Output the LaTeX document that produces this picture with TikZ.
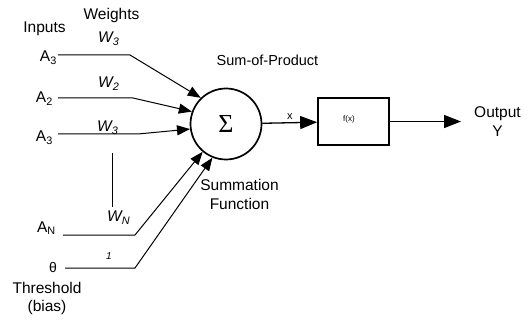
\documentclass[tikz,border=0pt]{standalone}
\usepackage{fontspec}
\setmainfont{Liberation Sans}
\newfontfamily\sigmafont{Liberation Serif}
\usetikzlibrary{arrows.meta,positioning}

\begin{document}
\begin{tikzpicture}[
    x=1pt, y=-1pt,
    txt/.style={inner sep=0pt, font=\fontsize{15.5}{18}\selectfont, align=center},
    wtxt/.style={inner sep=0pt, font=\fontsize{15.5}{18}\selectfont\itshape, anchor=base west},
    intxt/.style={inner sep=0pt, font=\fontsize{15.5}{18}\selectfont, anchor=base east},
    neuron/.style={circle, draw=black, line width=1.7pt, minimum size=71pt, inner sep=0pt},
    fbox/.style={rectangle, draw=black, line width=1.7pt, minimum width=71pt, minimum height=47pt},
    link/.style={line width=1pt},
    arrow/.style={-{Triangle[length=13pt,width=10pt]}, line width=1pt},
    bigarrow/.style={-{Triangle[length=17pt,width=13pt]}, line width=1.3pt}
]
\useasboundingbox (0,0) rectangle (529,320);
\node[neuron, font=\sigmafont\fontsize{26}{26}\selectfont] (sum) at (226,124) {Σ};
\node[fbox] (fx) at (353.5,121.5) {};
\node[inner sep=0pt, font=\fontsize{8}{9}\selectfont] (fxl) at (349,119) {f(x)};
\node[txt, anchor=base] (out) at (497.5,137) {Output\\[1pt]Y};

\node[txt, anchor=base] (inp) at (44.5,33) {Inputs};
\node[txt, anchor=base] (wgt) at (111.5,20) {Weights};
\node[txt, anchor=base, font=\fontsize{14.5}{17}\selectfont] (sop) at (267.5,66) {Sum-of-Product};
\node[txt, anchor=base] (sfn) at (239.5,209) {Summation\\Function};
\node[txt, anchor=base] (thr) at (47,311) {Threshold\\(bias)};

\node[intxt] (a1) at (57,62) {A\textsubscript{3}};
\node[intxt] (a2) at (53,103) {A\textsubscript{2}};
\node[intxt] (a3) at (53,142) {A\textsubscript{3}};
\node[intxt] (an) at (56,232) {A\textsubscript{N}};
\node[intxt, font=\fontsize{14}{16}\selectfont] (th) at (57,272) {θ};

\node[wtxt] (w1) at (98,43) {W\textsubscript{3}};
\node[wtxt] (w2) at (98,88) {W\textsubscript{2}};
\node[wtxt] (w3) at (97,132) {W\textsubscript{3}};
\node[wtxt] (wn) at (107,222) {W\textsubscript{N}};
\node[wtxt, font=\fontsize{10}{12}\selectfont\itshape] (w0) at (106,259) {1};

\coordinate (k1) at (130,55);
\coordinate (k2) at (133,98);
\coordinate (k3) at (138,134);
\coordinate (kn) at (135,235);
\coordinate (kt) at (135,268);
\coordinate (d1) at (112,153);
\coordinate (d2) at (112,207);

\draw[arrow] ([xshift=1pt]a1.east |- k1) -- (k1) -- (sum.134);
\draw[arrow] ([xshift=5pt]a2.east |- k2) -- (k2) -- (sum.160);
\draw[arrow] ([xshift=5pt]a3.east |- k3) -- (k3) -- (sum.188);
\draw[arrow] ([xshift=7pt]an.east |- kn) -- (kn) -- (sum.230);
\draw[arrow] ([xshift=8pt]th.east |- kt) -- (kt) -- (sum.248);
\draw[link] (d1) -- (d2);

\draw[bigarrow] (sum) -- node[above=3pt, inner sep=0pt, font=\fontsize{11}{12}\selectfont] {x} (fx);
\draw[bigarrow] (fx) -- ([xshift=-13pt]out.west |- fx);
\end{tikzpicture}
\end{document}
